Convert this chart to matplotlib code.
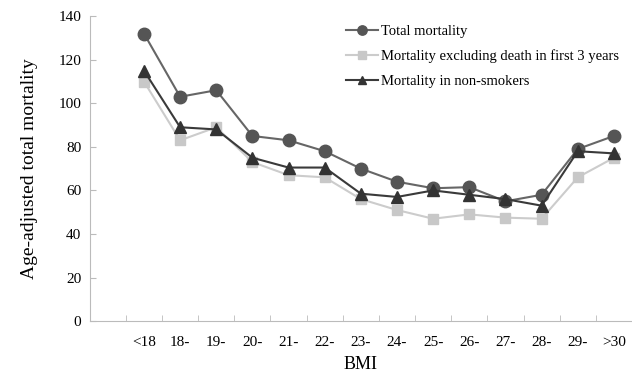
import matplotlib.pyplot as plt

plt.rcParams['font.family'] = ['Liberation Serif', 'DejaVu Serif']

bmi = ['<18', '18-', '19-', '20-', '21-', '22-', '23-', '24-', '25-', '26-', '27-', '28-', '29-', '>30']
total = [132, 103, 106, 85, 83, 78, 70, 64, 61, 61.5, 55, 58, 79, 85]
excl3 = [110, 83, 89, 73, 67, 66, 56, 51, 47, 49, 47.5, 47, 66, 75]
nonsmk = [115, 89, 88, 75, 70.5, 70.5, 58.5, 57, 60, 58, 56, 53, 78, 77]

fig = plt.figure(figsize=(6.32, 3.76), dpi=100)
ax = fig.add_axes([0.142, 0.146, 0.858, 0.811])

x = range(len(bmi))
ax.plot(x, total, color='#666666', lw=1.5, marker='o', ms=9,
        mfc='#555555', mec='#555555', label='Total mortality')
ax.plot(x, excl3, color='#cccccc', lw=1.5, marker='s', ms=7,
        mfc='#c8c8c8', mec='#c8c8c8', label='Mortality excluding death in first 3 years')
ax.plot(x, nonsmk, color='#3a3a3a', lw=1.5, marker='^', ms=8,
        mfc='#333333', mec='#333333', label='Mortality in non-smokers')

ax.set_xlim(-1.5, 13.5)
ax.set_ylim(0, 140)
ax.set_yticks(range(0, 141, 20))
ax.set_xticks(list(x))
ax.set_xticklabels(bmi)
ax.set_xticks([i - 0.5 for i in range(15)], minor=True)
ax.tick_params(axis='x', which='major', length=0, labelsize=11, pad=11)
ax.tick_params(axis='x', which='minor', direction='in', length=4, color='#bbbbbb')
ax.tick_params(axis='y', direction='in', length=4, color='#bbbbbb', labelsize=11, pad=6)

for s in ['top', 'right']:
    ax.spines[s].set_visible(False)
for s in ['left', 'bottom']:
    ax.spines[s].set_color('#bbbbbb')

ax.set_xlabel('BMI', fontsize=13, labelpad=5)
ax.set_ylabel('Age-adjusted total mortality', fontsize=14, labelpad=15)

ax.legend(loc='upper right', bbox_to_anchor=(1.0, 1.015), frameon=False,
          fontsize=10.5, handlelength=2.2, handletextpad=0.2, labelspacing=0.8,
          markerscale=0.75)

fig.savefig('out.png', dpi=100)
